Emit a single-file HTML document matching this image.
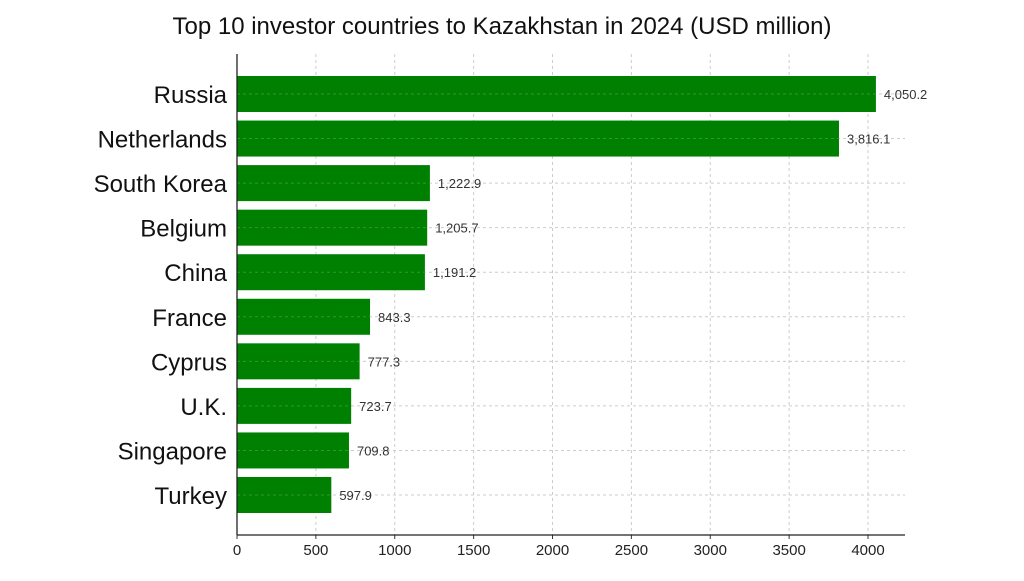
<!DOCTYPE html>
<html><head><meta charset="utf-8"><style>
body{margin:0;background:#fff;width:1024px;height:576px;overflow:hidden}
svg text{font-family:"Liberation Sans",sans-serif}
</style></head><body>
<svg width="1024" height="576">
<text x="502" y="34" text-anchor="middle" font-size="24" fill="#111" style="font-family:'Liberation Sans Narrow','Liberation Sans',sans-serif">Top 10 investor countries to Kazakhstan in 2024 (USD million)</text>
<g id="grid"></g><g id="bars"></g><g id="axes"></g>
</svg>
<script>
const categories=["Russia","Netherlands","South Korea","Belgium","China","France","Cyprus","U.K.","Singapore","Turkey"];
const values=[4050.2,3816.1,1222.9,1205.7,1191.2,843.3,777.3,723.7,709.8,597.9];
const labels=["4,050.2","3,816.1","1,222.9","1,205.7","1,191.2","843.3","777.3","723.7","709.8","597.9"];
const ticks=[0,500,1000,1500,2000,2500,3000,3500,4000];
const x0=237,k=(868-237)/4000,xEnd=905,yTop=54,yBot=535,c0=94,step=(495-94)/9,bh=36;
const X=v=>x0+v*k, Y=i=>c0+i*step;
const ns="http://www.w3.org/2000/svg";
function mk(t,a,p){const e=document.createElementNS(ns,t);for(const q in a)e.setAttribute(q,a[q]);document.getElementById(p).appendChild(e);return e;}
ticks.forEach(t=>{
 const l=mk("line",{x1:X(t),x2:X(t),y1:yTop,y2:yBot,stroke:"#ccc","stroke-dasharray":"3,3"},"grid");
 
 
 const m=mk("line",{x1:X(t),x2:X(t),y1:yBot,y2:yBot+4,stroke:"#333"},"axes");
 
 
 const tx=mk("text",{x:X(t),y:yBot+20,"text-anchor":"middle","font-size":"15",fill:"#222"},"axes");
 tx.textContent=t;
 
 
});
categories.forEach((c,i)=>{
 const g=mk("line",{x1:x0,x2:xEnd,y1:Y(i),y2:Y(i),stroke:"#ccc","stroke-dasharray":"3,3"},"grid");
 
 
 const r=mk("rect",{x:x0,y:Y(i)-bh/2,width:X(values[i])-x0,height:bh,fill:"#008000"},"bars");
 
 
 const gl=mk("line",{x1:x0,x2:X(values[i]),y1:Y(i),y2:Y(i),stroke:"#6a6","stroke-dasharray":"3,3","stroke-opacity":"0.5"},"bars");
 
 
 const v=mk("text",{x:X(values[i])+8,y:Y(i)+5,"font-size":"13",fill:"#333"},"bars");
 v.textContent=labels[i];
 
 
 const t=mk("text",{x:x0-10,y:Y(i)+9,"text-anchor":"end","font-size":"24",fill:"#111",style:"font-family:'Liberation Sans Narrow','Liberation Sans',sans-serif"},"axes");
 t.textContent=c;
 
 
});
const ys=mk("line",{x1:x0,x2:x0,y1:yTop,y2:yBot,stroke:"#222","stroke-width":"1.3"},"axes");


const xs=mk("line",{x1:x0,x2:xEnd,y1:yBot,y2:yBot,stroke:"#222","stroke-width":"1.3"},"axes");


</script>
</body></html>
